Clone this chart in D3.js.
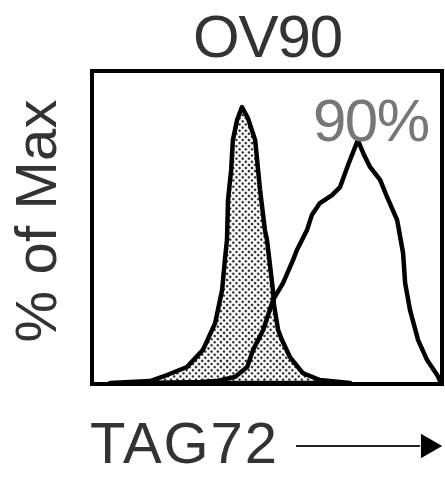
<!DOCTYPE html>
<html>
<head>
<meta charset="utf-8">
<script src="https://cdn.jsdelivr.net/npm/d3@7"></script>
<style>
  body { margin: 0; background: #fff; }
  text { font-family: "Liberation Sans", Arial, sans-serif; }
</style>
</head>
<body>
<div id="contenedor"></div>
<script>
// histograma sombreado (control)
canalControl = [4.9, 16.4, 21.3, 27, 31.6, 35.1, 37.1, 37.9, 38.5, 38.8, 39.7, 40.2, 41.4, 42.8, 44.5, 46.6, 48, 49.4, 50, 51.7, 52, 53.2, 54.3, 56.6, 60.3, 65.2, 73.9]
pctControl = [0, 0.7, 2.9, 5.8, 12, 21.7, 33.7, 44.6, 51.8, 66.3, 77.2, 88, 95.3, 100, 96, 88, 70, 55.4, 51.8, 33.7, 28.3, 19.2, 15.6, 9.4, 3.6, 1.1, 0]

// histograma abierto (TAG72)
canalTag = [16.4, 30.7, 35.6, 40.8, 44.3, 46, 48.9, 51.7, 54.6, 57.5, 58.6, 61.5, 62.9, 65.2, 68.7, 71, 73.3, 76.1, 77.9, 79.6, 82.5, 84.5, 87.4, 89.1, 89.7, 91.1, 93.4, 96, 98.9, 100]
pctTag = [0, 0.4, 0.7, 2.2, 5.8, 12, 19.2, 30, 36.2, 44.6, 48.2, 55.4, 60.9, 65.2, 68.1, 71, 79, 88, 82.6, 78.3, 73.6, 67.4, 59, 47.1, 36.2, 26.4, 15.6, 8.3, 2.9, 0]

titulo = "OV90"
porcentaje = "90%"
ejeXtexto = "TAG72"
ejeYtexto = "% of Max"

ancho = 445
alto = 477

escalaX = d3.scaleLinear()
    .domain([0, 100])
    .range([93, 441])

escalaY = d3.scaleLinear()
    .domain([0, 100])
    .range([383, 107])

contenedor = d3.select("#contenedor")
    .append("svg")
    .attr("width", ancho)
    .attr("height", alto)

// patron de puntos para el relleno
defs = contenedor.append("defs")
patron = defs.append("pattern")
    .attr("id", "puntos")
    .attr("width", 4.4)
    .attr("height", 4.4)
    .attr("patternUnits", "userSpaceOnUse")
    .attr("patternTransform", "rotate(45)")
patron.append("rect").attr("width", 4.4).attr("height", 4.4).attr("fill", "#fff")
patron.append("circle").attr("cx", 2.2).attr("cy", 2.2).attr("r", 1.2).attr("fill", "#000")

datosControl = canalControl.map(function(c, i) { return [c, pctControl[i]] })
datosTag = canalTag.map(function(c, i) { return [c, pctTag[i]] })

area = d3.area()
    .x(function(d) { return escalaX(d[0]) })
    .y0(escalaY(0))
    .y1(function(d) { return escalaY(d[1]) })

linea = d3.line()
    .x(function(d) { return escalaX(d[0]) })
    .y(function(d) { return escalaY(d[1]) })

contenedor.append("path")
    .datum(datosControl)
    .attr("d", area)
    .attr("fill", "url(#puntos)")
    .attr("stroke", "#000")
    .attr("stroke-width", 4.5)
    .attr("stroke-linejoin", "round")

contenedor.append("path")
    .datum(datosTag)
    .attr("d", linea)
    .attr("fill", "none")
    .attr("stroke", "#000")
    .attr("stroke-width", 4.5)
    .attr("stroke-linejoin", "round")

// marco
contenedor.append("rect")
    .attr("x", 92)
    .attr("y", 71)
    .attr("width", 350)
    .attr("height", 313)
    .attr("fill", "none")
    .attr("stroke", "#000")
    .attr("stroke-width", 4)

contenedor.append("text")
    .attr("x", 268)
    .attr("y", 57)
    .attr("text-anchor", "middle")
    .attr("font-size", 60)
    .attr("textLength", 150)
    .attr("fill", "#333")
    .text(titulo)

contenedor.append("text")
    .attr("x", 313)
    .attr("y", 141)
    .attr("font-size", 60)
    .attr("textLength", 117)
    .attr("fill", "#777")
    .text(porcentaje)

contenedor.append("text")
    .attr("x", 90)
    .attr("y", 463)
    .attr("font-size", 58)
    .attr("textLength", 187)
    .attr("fill", "#333")
    .text(ejeXtexto)

contenedor.append("text")
    .attr("transform", "translate(56,221) rotate(-90)")
    .attr("text-anchor", "middle")
    .attr("font-size", 58)
    .attr("textLength", 243)
    .attr("fill", "#333")
    .text(ejeYtexto)

// flecha
contenedor.append("line")
    .attr("x1", 296)
    .attr("x2", 420)
    .attr("y1", 446)
    .attr("y2", 446)
    .attr("stroke", "#222")
    .attr("stroke-width", 2)

contenedor.append("path")
    .attr("d", d3.symbol().type(d3.symbolTriangle).size(260)())
    .attr("transform", "translate(428,446) rotate(90)")
    .attr("fill", "#000")
</script>
</body>
</html>
